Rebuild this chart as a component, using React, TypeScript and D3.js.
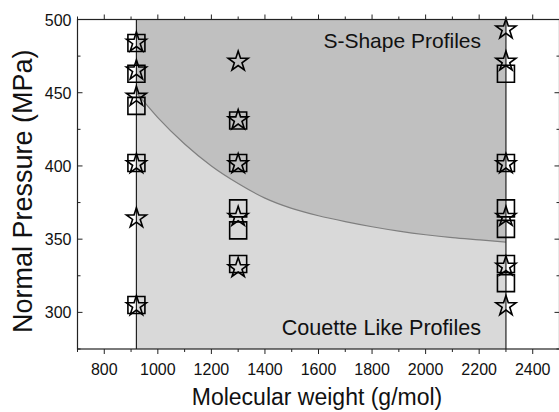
import React from "react";
import * as d3 from "d3";

// ---- data ----
const squareX = [920, 920, 920, 920, 920, 1300, 1300, 1300, 1300, 1300, 2300, 2300, 2300, 2300, 2300, 2300];
const squareY = [484, 463, 441, 402, 305, 431, 402, 371, 356, 333, 463, 402, 371, 357, 333, 320];
const starX = [920, 920, 920, 920, 920, 920, 1300, 1300, 1300, 1300, 1300, 2300, 2300, 2300, 2300, 2300, 2300];
const starY = [485, 466, 448, 402, 365, 305, 472, 432, 402, 366, 331, 494, 472, 402, 366, 332, 305];
const boundaryX = [920, 1000, 1100, 1200, 1300, 1400, 1500, 1600, 1700, 1800, 1900, 2000, 2100, 2200, 2300];
const boundaryY = [450, 433, 415, 400, 388, 378, 371, 366, 362, 358.5, 355.5, 353, 351, 349.5, 348];
const regionX = [920, 2300];
const xTicksMajor = [800, 1000, 1200, 1400, 1600, 1800, 2000, 2200, 2400];
const xTicksMinor = [700, 900, 1100, 1300, 1500, 1700, 1900, 2100, 2300, 2500];
const yTicksMajor = [300, 350, 400, 450, 500];
const yTicksMinor = [275, 325, 375, 425, 475];
const xDomain = [700, 2500];
const yDomain = [275, 500];

const W = 559;
const H = 412;
const L = 77.5, R = 559.5, T = 19.5, B = 349;
const FONT = "'Liberation Sans', Arial, sans-serif";

export default function App() {
  const x = d3.scaleLinear().domain(xDomain).range([L, R]);
  const y = d3.scaleLinear().domain(yDomain).range([B, T]);

  const pts = boundaryX.map((v, i) => [v, boundaryY[i]] as [number, number]);
  const line = d3.line<[number, number]>().x(d => x(d[0])).y(d => y(d[1])).curve(d3.curveMonotoneX);
  const upper = d3.area<[number, number]>().x(d => x(d[0])).y0(y(yDomain[1])).y1(d => y(d[1])).curve(d3.curveMonotoneX);

  const star = d3.symbol().type(d3.symbolStar).size(124)()!;
  const square = d3.symbol().type(d3.symbolSquare).size(17 * 17)()!;

  return (
    <svg width={W} height={H} style={{ position: "absolute", left: 0, top: 0, background: "#fff" }} fontFamily={FONT}>
      {/* light region */}
      <rect x={x(regionX[0])} y={T} width={x(regionX[1]) - x(regionX[0])} height={B - T} fill="#d9d9d9" />
      {/* dark region above boundary */}
      <path d={upper(pts)!} fill="#c0c0c0" />
      <path d={line(pts)!} fill="none" stroke="#7f7f7f" strokeWidth={1.2} />
      {regionX.map(v => (
        <line key={v} x1={x(v)} x2={x(v)} y1={T} y2={B} stroke="#222" strokeWidth={1.2} />
      ))}

      {/* markers */}
      {squareX.map((v, i) => (
        <path key={"s" + i} d={square} transform={`translate(${x(v)},${y(squareY[i])})`} fill="none" stroke="#000" strokeWidth={1.6} />
      ))}
      {starX.map((v, i) => (
        <path key={"t" + i} d={star} transform={`translate(${x(v)},${y(starY[i]) + 1})`} fill="none" stroke="#000" strokeWidth={1.6} />
      ))}

      {/* frame */}
      <rect x={L} y={T} width={R - L} height={B - T} fill="none" stroke="#222" strokeWidth={1.2} />

      {/* x ticks */}
      {xTicksMajor.map(v => (
        <g key={"xm" + v}>
          <line x1={x(v)} x2={x(v)} y1={B} y2={B + 5} stroke="#222" />
          <line x1={x(v)} x2={x(v)} y1={T} y2={T - 5} stroke="#222" />
          <text x={x(v)} y={B + 26} textAnchor="middle" fontSize={16} fill="#111">{v}</text>
        </g>
      ))}
      {xTicksMinor.map(v => (
        <g key={"xn" + v}>
          <line x1={x(v)} x2={x(v)} y1={B} y2={B + 3} stroke="#222" />
          <line x1={x(v)} x2={x(v)} y1={T} y2={T - 3} stroke="#222" />
        </g>
      ))}
      {/* y ticks */}
      {yTicksMajor.map(v => (
        <g key={"ym" + v}>
          <line x1={L} x2={L + 5} y1={y(v)} y2={y(v)} stroke="#222" />
          <line x1={R} x2={R - 5} y1={y(v)} y2={y(v)} stroke="#222" />
          <text x={L - 6} y={y(v) + 6} textAnchor="end" fontSize={16} fill="#111">{v}</text>
        </g>
      ))}
      {yTicksMinor.map(v => (
        <g key={"yn" + v}>
          <line x1={L} x2={L + 3} y1={y(v)} y2={y(v)} stroke="#222" />
          <line x1={R} x2={R - 3} y1={y(v)} y2={y(v)} stroke="#222" />
        </g>
      ))}

      {/* annotations */}
      <text x={481} y={48} textAnchor="end" fontSize={21} fill="#111">S-Shape Profiles</text>
      <text x={481} y={335} textAnchor="end" fontSize={21.6} fill="#111">Couette Like Profiles</text>

      {/* axis titles */}
      <text x={317} y={405} textAnchor="middle" fontSize={23} fill="#111">Molecular weight (g/mol)</text>
      <text transform="translate(32,333) rotate(-90)" textAnchor="start" fontSize={27} fill="#111">Normal Pressure (MPa)</text>
    </svg>
  );
}
